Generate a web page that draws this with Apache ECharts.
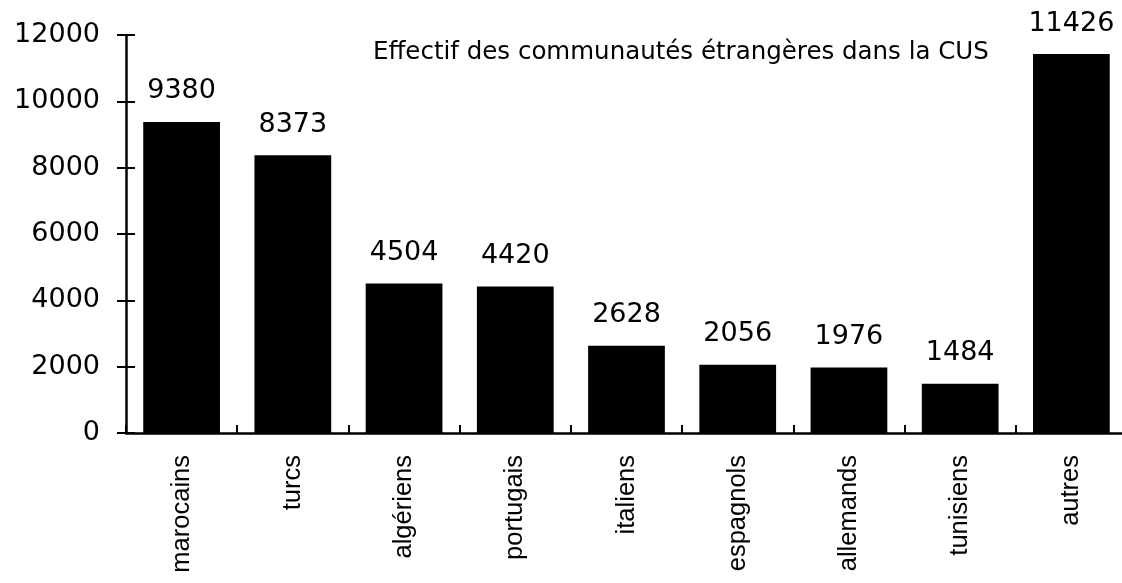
<!DOCTYPE html>
<html>
<head>
<meta charset="utf-8">
<script src="https://cdn.jsdelivr.net/npm/echarts@6/dist/echarts.min.js"></script>
<style>
  html, body { margin: 0; padding: 0; background: #fff; }
  #chart { width: 1122px; height: 583px; }
</style>
</head>
<body>
<div id="chart"></div>
<script>
let categories = ['marocains', 'turcs', 'algériens', 'portugais', 'italiens', 'espagnols', 'allemands', 'tunisiens', 'autres'];
let effectifs = [9380, 8373, 4504, 4420, 2628, 2056, 1976, 1484, 11426];
let titleText = 'Effectif des communautés étrangères dans la CUS';

let chart = echarts.init(document.getElementById('chart'), null, {renderer: 'canvas'});

let gridBox = {left: 126, top: 35, width: 1001, height: 398, outerBoundsMode: 'none'};
let tickStyle = {color: '#000', width: 2};

// second grid on top of the first one only draws the inner half of the ticks,
// so the ticks cross the axis line like in the original
let option = {
    animation: false,
    backgroundColor: '#fff',
    title: {
        text: titleText,
        left: 368,
        top: 35,
        textStyle: {fontFamily: 'DejaVu Sans', fontSize: 24.5, fontWeight: 'normal', color: '#000'}
    },
    grid: [gridBox, Object.assign({}, gridBox)],
    xAxis: [{
        type: 'category',
        gridIndex: 0,
        data: categories,
        axisLine: {lineStyle: {color: '#000', width: 2.5}},
        axisTick: {length: 10, lineStyle: tickStyle},
        axisLabel: {
            rotate: 90, margin: 22, color: '#000',
            fontFamily: 'Liberation Sans', fontSize: 25.5, interval: 0
        }
    }, {
        type: 'category',
        gridIndex: 1,
        data: categories,
        position: 'bottom',
        axisLine: {show: false},
        axisTick: {show: true, inside: true, length: 8, lineStyle: tickStyle},
        axisLabel: {show: false}
    }],
    yAxis: [{
        type: 'value',
        gridIndex: 0,
        min: 0, max: 12000, interval: 2000,
        axisLine: {show: true, lineStyle: {color: '#000', width: 2.5}},
        axisTick: {show: true, length: 9, lineStyle: tickStyle},
        splitLine: {show: false},
        axisLabel: {
            margin: 26, color: '#000', fontFamily: 'DejaVu Sans', fontSize: 27,
            formatter: v => String(v)
        }
    }, {
        type: 'value',
        gridIndex: 1,
        position: 'left',
        min: 0, max: 12000, interval: 2000,
        axisLine: {show: false},
        axisTick: {show: true, inside: true, length: 9, lineStyle: tickStyle},
        splitLine: {show: false},
        axisLabel: {show: false}
    }],
    series: [{
        type: 'bar',
        xAxisIndex: 0,
        yAxisIndex: 0,
        data: effectifs,
        barCategoryGap: '31%',
        itemStyle: {color: '#000'},
        label: {
            show: true, position: 'top', distance: 17, color: '#000',
            fontFamily: 'DejaVu Sans', fontSize: 27, formatter: '{c}'
        }
    }]
};

chart.setOption(option);
</script>
</body>
</html>
